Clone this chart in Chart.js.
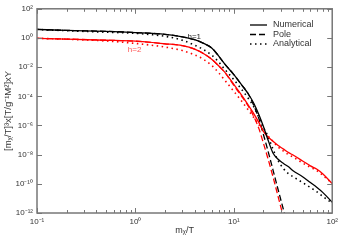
<!DOCTYPE html>
<html>
<head>
<meta charset="utf-8">
<script src="https://cdn.jsdelivr.net/npm/chart.js@4/dist/chart.umd.min.js"></script>
<style>
  html, body { margin: 0; padding: 0; background: #fff; }
  #wrap { width: 342px; height: 240px; }
</style>
</head>
<body>
<div id="wrap"><canvas id="chart"></canvas></div>
<script>
// values (x = m_chi/T)
const xGrid = [0.1, 0.2, 0.5, 1, 2, 3, 4, 5, 6, 7, 8, 10, 12, 14, 16, 18, 20, 22, 25, 28, 32, 36, 40, 50, 60, 70, 80, 100];

const numericalH1 = [3.85, 3.3, 2.85, 2.35, 1.77, 1.2, 0.76, 0.41, 0.20, 0.059, 0.018, 3.1e-3, 6.1e-4, 1.5e-4, 3.2e-5, 5.4e-6, 8.4e-7, 1.3e-7, 1.3e-8, 5e-9, 2.5e-9, 1.46e-9, 7.9e-10, 3.1e-10, 1.22e-10, 5.6e-11, 2.6e-11, 5.5e-12];
const numericalH2 = [0.95, 0.84, 0.70, 0.60, 0.40, 0.30, 0.174, 0.080, 0.034, 0.0125, 4.9e-3, 6.6e-4, 1.2e-4, 2.5e-5, 6.3e-6, 1.56e-6, 3.9e-7, 1.8e-7, 8.2e-8, 4.4e-8, 2.4e-8, 1.38e-8, 9.4e-9, 3.7e-9, 1.7e-9, 9.9e-10, 4.9e-10, 1.05e-10];

const analyticalH1 = [3.85, 3.15, 2.5, 2.07, 1.3, 0.70, 0.32, 0.149, 0.064, 0.023, 7.8e-3, 1.4e-3, 3.0e-4, 7.4e-5, 1.86e-5, 3.4e-6, 7.2e-7, 2.1e-7, 2.4e-8, 4.3e-9, 1.1e-9, 4.9e-10, 3.1e-10, 1.22e-10, 5.6e-11, 2.8e-11, 1.4e-11, 4.7e-12];
const analyticalH2 = [0.95, 0.82, 0.62, 0.42, 0.237, 0.137, 0.069, 0.032, 0.0125, 4.2e-3, 1.4e-3, 2.2e-4, 4.7e-5, 1.17e-5, 3.4e-6, 1.14e-6, 4.5e-7, 2.1e-7, 8.2e-8, 3.5e-8, 1.74e-8, 1.0e-8, 6.9e-9, 2.7e-9, 1.35e-9, 7.9e-10, 3.9e-10, 1.05e-10];

const poleXH1 = [0.1, 0.2, 0.5, 1, 2, 3, 4, 5, 6, 7, 8, 10, 12, 14, 16, 18, 20, 22, 25, 28, 34];
const poleH1 = [3.85, 3.3, 2.85, 2.35, 1.77, 1.2, 0.76, 0.41, 0.20, 0.059, 0.018, 3.1e-3, 6.1e-4, 1.5e-4, 2.2e-5, 2.9e-6, 2.4e-7, 2.4e-8, 9.1e-10, 4.8e-11, 3.5e-13];
const poleXH2 = [0.1, 0.2, 0.5, 1, 2, 3, 4, 5, 6, 7, 8, 10, 12, 14, 16, 18, 20, 22, 25, 28, 32];
const poleH2 = [0.95, 0.84, 0.70, 0.60, 0.40, 0.30, 0.174, 0.080, 0.034, 0.0125, 4.9e-3, 5.6e-4, 1.0e-4, 2.2e-5, 3.9e-6, 6.1e-7, 6.0e-8, 6.9e-9, 3.1e-10, 1.6e-11, 5e-13];

const xTickValues = [0.1, 1, 10, 100];
const yTickExponents = [-12, -10, -8, -6, -4, -2, 0, 2];
const legendLabels = ['Numerical', 'Pole', 'Analytical'];

const SUP = { '-': '\u207B', '0': '\u2070', '1': '\u00B9', '2': '\u00B2', '3': '\u00B3', '4': '\u2074', '5': '\u2075', '6': '\u2076', '7': '\u2077', '8': '\u2078', '9': '\u2079' };
function powLabel(v) {
    const e = Math.round(Math.log10(v));
    return '10' + String(e).split('').map(c => SUP[c]).join('');
}
function pts(xs, ys) {
    return xs.map((x, i) => ({ x: x, y: ys[i] }));
}

const FONT = '"Liberation Sans", Arial, Helvetica, sans-serif';
const RED = '#ff0000';

function series(label, xs, ys, color, dash, width) {
    return {
        label: label,
        data: pts(xs, ys),
        borderColor: color,
        borderWidth: width,
        borderDash: dash,
        pointRadius: 0,
        fill: false,
        cubicInterpolationMode: 'monotone'
    };
}

// inward ticks, frame, legend and curve labels
const decorPlugin = {
    id: 'decor',
    afterDraw(chart) {
        const { ctx, chartArea: a, scales: { x, y } } = chart;
        ctx.save();
        ctx.strokeStyle = '#777';
        ctx.lineWidth = 1;
        ctx.beginPath();
        for (let d = -1; d <= 1; d++) {
            for (let m = 1; m <= 9; m++) {
                const px = Math.round(x.getPixelForValue(m * Math.pow(10, d))) + 0.5;
                const len = m === 1 ? 5 : 3;
                ctx.moveTo(px, a.bottom); ctx.lineTo(px, a.bottom - len);
                ctx.moveTo(px, a.top); ctx.lineTo(px, a.top + len);
            }
        }
        yTickExponents.forEach(e => {
            const py = Math.round(y.getPixelForValue(Math.pow(10, e))) + 0.5;
            ctx.moveTo(a.left, py); ctx.lineTo(a.left + 5, py);
            ctx.moveTo(a.right, py); ctx.lineTo(a.right - 5, py);
        });
        ctx.stroke();

        ctx.lineWidth = 1.5;
        ctx.strokeRect(a.left, a.top, a.right - a.left, a.bottom - a.top);

        // legend
        const styles = [[], [6, 3], [1.5, 3.5]];
        ctx.font = '9px ' + FONT;
        ctx.textBaseline = 'middle';
        ctx.textAlign = 'left';
        legendLabels.forEach((t, i) => {
            const ly = 25 + i * 9.5;
            ctx.strokeStyle = '#000';
            ctx.lineWidth = 1.3;
            ctx.setLineDash(styles[i]);
            ctx.beginPath();
            ctx.moveTo(250, ly); ctx.lineTo(267, ly);
            ctx.stroke();
            ctx.setLineDash([]);
            ctx.fillStyle = '#333';
            ctx.fillText(t, 273, ly);
        });

        ctx.font = '8px ' + FONT;
        ctx.textAlign = 'center';
        ctx.fillStyle = '#222';
        ctx.fillText('h=1', x.getPixelForValue(3.96), y.getPixelForValue(1.15));
        ctx.fillStyle = '#ff5555';
        ctx.fillText('h=2', x.getPixelForValue(0.98), y.getPixelForValue(0.15));
        ctx.restore();
    }
};

new Chart(document.getElementById('chart'), {
    type: 'line',
    data: {
        datasets: [
            series('Numerical h=1', xGrid, numericalH1, '#000', [], 1.3),
            series('Numerical h=2', xGrid, numericalH2, RED, [], 1.3),
            series('Pole h=1', poleXH1, poleH1, '#000', [6, 3], 1.3),
            series('Pole h=2', poleXH2, poleH2, RED, [6, 3], 1.3),
            series('Analytical h=1', xGrid, analyticalH1, '#000', [1.5, 3.5], 1.6),
            series('Analytical h=2', xGrid, analyticalH2, RED, [1.5, 3.5], 1.6)
        ]
    },
    options: {
        responsive: true,
        maintainAspectRatio: false,
        animation: false,
        layout: { padding: { top: 5, right: 6, left: 0, bottom: 0 } },
        plugins: {
            legend: { display: false },
            tooltip: { enabled: false }
        },
        scales: {
            x: {
                type: 'logarithmic',
                min: 0.1,
                max: 100,
                grid: { display: false, drawTicks: false },
                border: { display: false },
                afterBuildTicks: s => { s.ticks = xTickValues.map(v => ({ value: v })); },
                afterFit: s => { s.height = 27; },
                ticks: {
                    padding: 4,
                    maxRotation: 0,
                    autoSkip: false,
                    color: '#333',
                    font: { family: FONT, size: 8 },
                    callback: v => powLabel(v)
                },
                title: {
                    display: true,
                    text: 'm\u1D6A/T',
                    color: '#333',
                    font: { family: FONT, size: 9 },
                    padding: { top: 0, bottom: 4 }
                }
            },
            y: {
                type: 'logarithmic',
                min: 1e-12,
                max: 1e2,
                grid: { display: false, drawTicks: false },
                border: { display: false },
                afterBuildTicks: s => { s.ticks = yTickExponents.map(e => ({ value: Math.pow(10, e) })); },
                afterFit: s => { s.width = 37; },
                ticks: {
                    padding: 4,
                    autoSkip: false,
                    color: '#333',
                    font: { family: FONT, size: 8 },
                    callback: v => powLabel(v)
                },
                title: {
                    display: true,
                    text: '[m\u1D6A/T]\u00B3x[T/g\u207B\u00B9M\u00B2]xY',
                    color: '#333',
                    font: { family: FONT, size: 9.5 },
                    padding: { top: 3, bottom: 0 }
                }
            }
        }
    },
    plugins: [decorPlugin]
});
</script>
</body>
</html>
